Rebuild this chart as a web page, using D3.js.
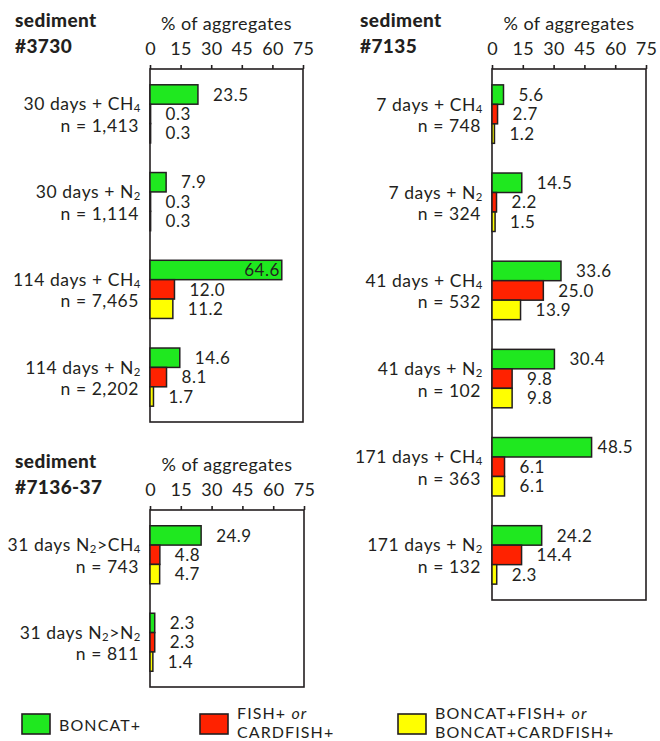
<!DOCTYPE html>
<html><head><meta charset="utf-8">
<script src="https://cdn.jsdelivr.net/npm/d3@7"></script>
<style>
  body { margin: 0; background: #fff; }
  svg text { font-family: Lato, "Noto Sans", sans-serif; fill: #231f20; }
</style>
</head><body>
<svg id="chart" width="660" height="741"></svg>
<script>
// ---- data ----
const seriesNames = ["BONCAT+", "FISH+ or CARDFISH+", "BONCAT+FISH+ or BONCAT+CARDFISH+"];
const legendLines = [["BONCAT+"], ["FISH+ or", "CARDFISH+"], ["BONCAT+FISH+ or", "BONCAT+CARDFISH+"]];
const seriesColors = ["#1fe81f", "#ff2200", "#ffff00"];
const xTicks = [0, 15, 30, 45, 60, 75];
const xMax = 75;

// sediment #3730
const s3730Conditions = ["30 days + CH_4", "30 days + N_2", "114 days + CH_4", "114 days + N_2"];
const s3730Counts = [1413, 1114, 7465, 2202];
const s3730Boncat = [23.5, 7.9, 64.6, 14.6];
const s3730Fish = [0.3, 0.3, 12.0, 8.1];
const s3730Both = [0.3, 0.3, 11.2, 1.7];

// sediment #7135
const s7135Conditions = ["7 days + CH_4", "7 days + N_2", "41 days + CH_4", "41 days + N_2", "171 days + CH_4", "171 days + N_2"];
const s7135Counts = [748, 324, 532, 102, 363, 132];
const s7135Boncat = [5.6, 14.5, 33.6, 30.4, 48.5, 24.2];
const s7135Fish = [2.7, 2.2, 25.0, 9.8, 6.1, 14.4];
const s7135Both = [1.2, 1.5, 13.9, 9.8, 6.1, 2.3];

// sediment #7136-37
const s7136Conditions = ["31 days N_2>CH_4", "31 days N_2>N_2"];
const s7136Counts = [743, 811];
const s7136Boncat = [24.9, 2.3];
const s7136Fish = [4.8, 2.3];
const s7136Both = [4.7, 1.4];

// ---- layout ----
const svg = d3.select("#chart");
const ink = "#231f20";
const fmtN = d3.format(",");
const fmtV = d3.format(".1f");

const panels = [
  { name: ["sediment", "#3730"], titleX: 15, x0: 150, x1: 303, top: 69, bottom: 422,
    conditions: s3730Conditions, counts: s3730Counts, series: [s3730Boncat, s3730Fish, s3730Both] },
  { name: ["sediment", "#7135"], titleX: 360, x0: 492, x1: 646, top: 69, bottom: 600,
    conditions: s7135Conditions, counts: s7135Counts, series: [s7135Boncat, s7135Fish, s7135Both] },
  { name: ["sediment", "#7136-37"], titleX: 15, x0: 150, x1: 304, top: 510, bottom: 687,
    conditions: s7136Conditions, counts: s7136Counts, series: [s7136Boncat, s7136Fish, s7136Both] }
];

// writes "CH_4" style labels with subscripted digits
function richText(sel, str) {
  const parts = str.split(/_(\d)/);
  parts.forEach((p, i) => {
    if (!p) return;
    if (i % 2 === 1) {
      sel.append("tspan").attr("baseline-shift", "-18%").attr("font-size", "65%").text(p);
    } else {
      sel.append("tspan").text(p);
    }
  });
}

function drawPanel(p) {
  const g = svg.append("g");
  const x = d3.scaleLinear().domain([0, xMax]).range([p.x0, p.x1]);
  const y = d3.scaleBand().domain(d3.range(p.conditions.length))
    .range([p.top, p.bottom]).paddingInner(0.337).paddingOuter(0.18);
  const yIn = d3.scaleBand().domain(d3.range(3)).range([0, y.bandwidth()]);

  // title
  const title = g.append("text").attr("x", p.titleX)
    .attr("font-weight", 900).attr("font-size", 19).attr("letter-spacing", 0.4);
  title.append("tspan").attr("x", p.titleX).attr("y", p.top - 42).text(p.name[0]);
  title.append("tspan").attr("x", p.titleX).attr("y", p.top - 16).text(p.name[1]);

  // axis title
  g.append("text").attr("x", (p.x0 + p.x1) / 2).attr("y", p.top - 39)
    .attr("text-anchor", "middle").attr("font-size", 18).attr("letter-spacing", 0.4)
    .text("% of aggregates");

  // top axis
  const axis = g.append("g").attr("transform", `translate(0,${p.top})`)
    .call(d3.axisTop(x).tickValues(xTicks).tickSize(4).tickSizeOuter(0).tickPadding(10));
  axis.select(".domain").remove();
  axis.selectAll(".tick line").attr("stroke", ink).attr("stroke-width", 1.6);
  axis.selectAll(".tick text").attr("font-size", 18).attr("fill", ink)
    .attr("font-family", "Lato, 'Noto Sans', sans-serif").attr("letter-spacing", 0.3);

  // frame
  g.append("rect").attr("x", p.x0).attr("y", p.top)
    .attr("width", p.x1 - p.x0).attr("height", p.bottom - p.top)
    .attr("fill", "none").attr("stroke", ink).attr("stroke-width", 1.6);

  // groups
  p.conditions.forEach((cond, i) => {
    const gy = y(i);
    const cy = gy + y.bandwidth() / 2;
    const l1 = g.append("text").attr("text-anchor", "end").attr("font-size", 17.5)
      .attr("letter-spacing", 0.55).attr("x", p.x0 - 9).attr("y", cy - 3.5);
    richText(l1, cond);
    g.append("text").attr("text-anchor", "end").attr("font-size", 17.5)
      .attr("letter-spacing", 0.55).attr("x", p.x0 - 11).attr("y", cy + 18)
      .text("n = " + fmtN(p.counts[i]));

    p.series.forEach((vals, s) => {
      const v = vals[i];
      const by = gy + yIn(s);
      const bh = yIn.bandwidth();
      g.append("rect").attr("x", x(0)).attr("y", by)
        .attr("width", x(v) - x(0)).attr("height", bh)
        .attr("fill", seriesColors[s]).attr("stroke", ink).attr("stroke-width", 1.5);

      const t = g.append("text").attr("font-size", 17).attr("letter-spacing", 0.5)
        .attr("y", by + bh / 2 + 6.2).text(fmtV(v));
      const w = t.node().getComputedTextLength();
      const end = x(v);
      if (end + 15 + w <= p.x1 - 6) {
        t.attr("x", end + 15);
      } else if (end + 6 + w <= p.x1 - 4) {
        t.attr("x", end + 6);
      } else {
        t.attr("x", end - 2).attr("text-anchor", "end");
      }
    });
  });
}

panels.forEach(drawPanel);

// legend
const legendX = [22, 200, 398];
const legend = svg.append("g");
seriesNames.forEach((name, s) => {
  const lx = legendX[s];
  legend.append("rect").attr("x", lx).attr("y", 714).attr("width", 28).attr("height", 20)
    .attr("fill", seriesColors[s]).attr("stroke", ink).attr("stroke-width", 1.6);
  const lines = legendLines[s];
  const baselines = lines.length === 1 ? [730.5] : [718.5, 738];
  lines.forEach((line, k) => {
    const t = legend.append("text").attr("font-size", 16).attr("letter-spacing", 1.1)
      .attr("x", lx + 37).attr("y", baselines[k]);
    line.split(/(\bor\b)/).forEach(part => {
      if (!part) return;
      const sp = t.append("tspan").text(part);
      if (part === "or") sp.attr("font-style", "italic");
    });
  });
});
</script>
</body></html>
